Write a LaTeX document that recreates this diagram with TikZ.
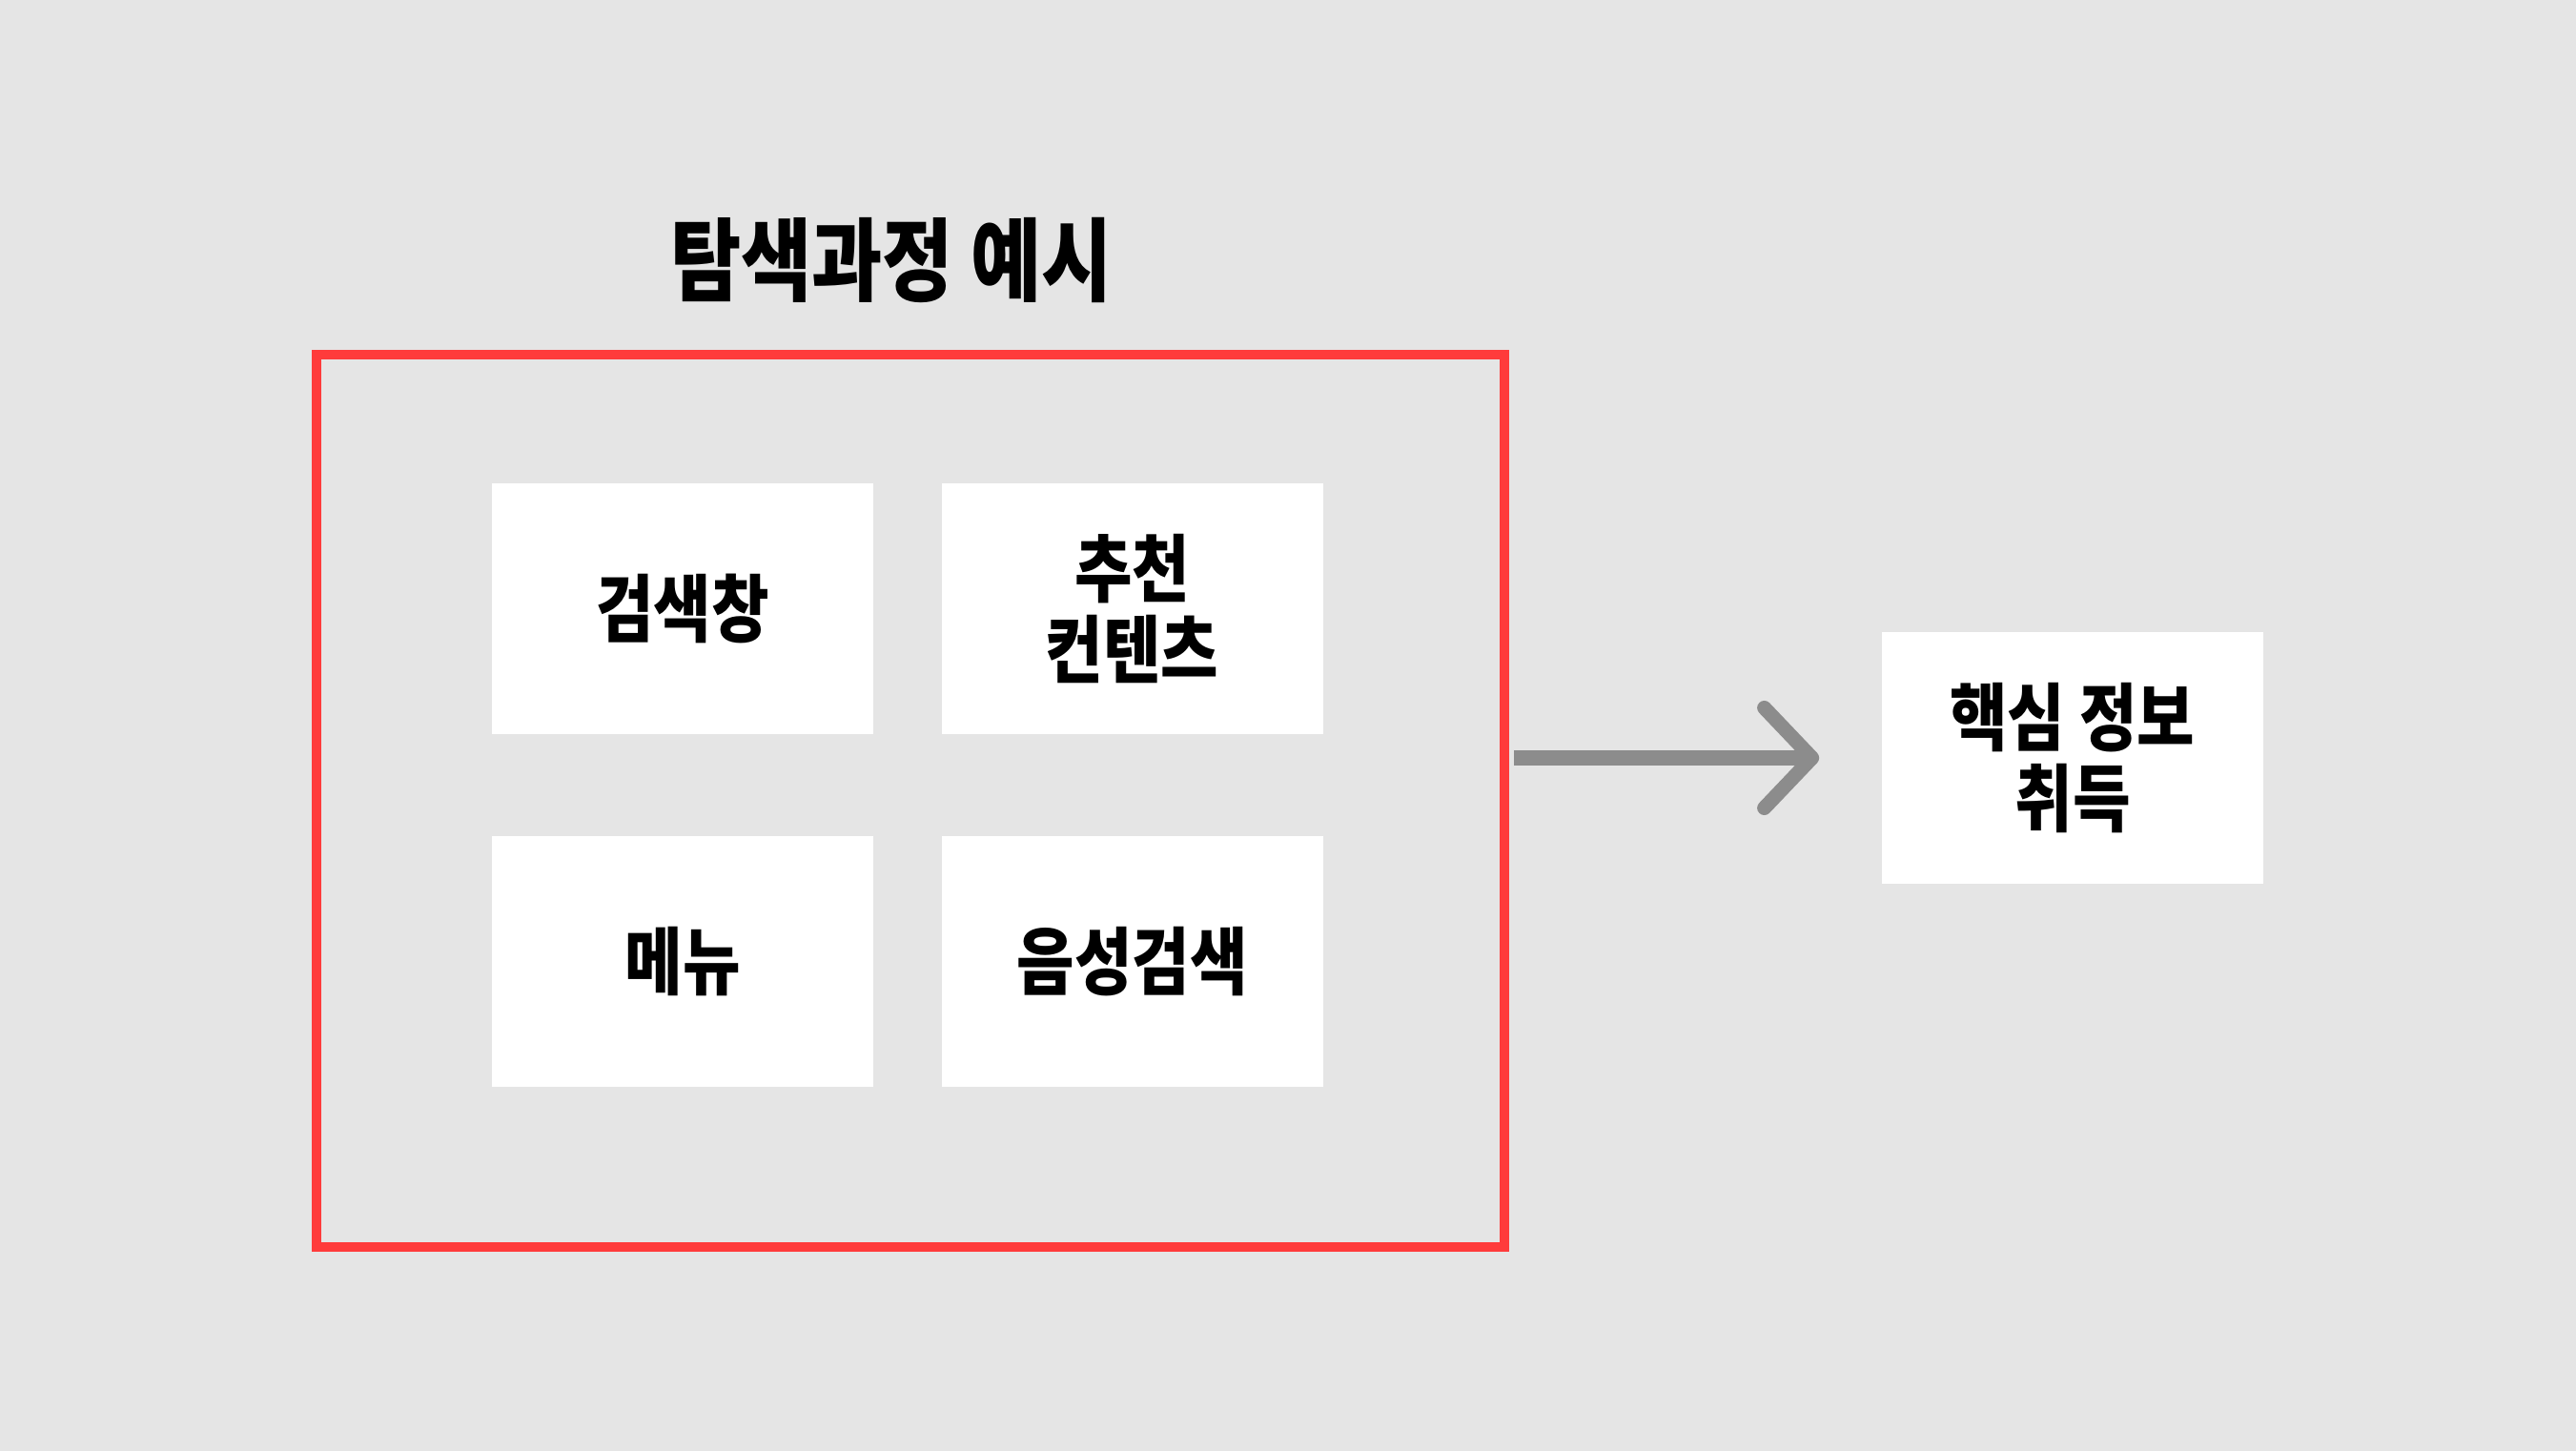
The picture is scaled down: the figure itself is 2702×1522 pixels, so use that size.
\documentclass[tikz,border=0pt]{standalone}
\usepackage{fontspec}
\setmainfont{Noto Sans CJK KR}[FakeStretch=0.85]
\usepackage{tikz}
\usetikzlibrary{arrows.meta}
\usetikzlibrary{positioning}
\definecolor{bg}{HTML}{E5E5E5}
\definecolor{frameRed}{HTML}{FF3B3B}
\definecolor{arrowGray}{HTML}{8C8C8C}

\begin{document}
\begin{tikzpicture}[x=0.01cm,y=-0.01cm,
  box/.style={fill=white,minimum width=4cm,minimum height=2.63cm,inner sep=0pt,align=center,font=\bfseries\fontsize{22}{24}\selectfont},
  title/.style={font=\bfseries\fontsize{27}{30}\selectfont}]
  \fill[bg] (0,0) rectangle (2702,1522);
  \node[draw=frameRed,line width=0.1cm,minimum width=12.46cm,minimum height=9.36cm] (frame) at (955,840){};
  \node[title] (head) at (935,273){탐색과정 예시};
  \node[box] (search) at (716,638.5){검색창};
  \node[box,right=0.7cm of search] (recommend){추천\\컨텐츠};
  \node[box,below=1.05cm of search] (menu){메뉴};
  \node[box,right=0.7cm of menu] (voice){음성검색};
  \node[box,minimum height=2.64cm] (info) at (2174,795){핵심 정보\\취득};
  %\draw[red] (frame.east) -- (info.west);
  \draw[arrowGray,line width=0.15cm,-{Straight Barb[length=0.5cm,width=1.05cm,round]}] ([xshift=0.05cm]frame.east |- info) -- ([xshift=-0.65cm]info.west);
\end{tikzpicture}
\end{document}
